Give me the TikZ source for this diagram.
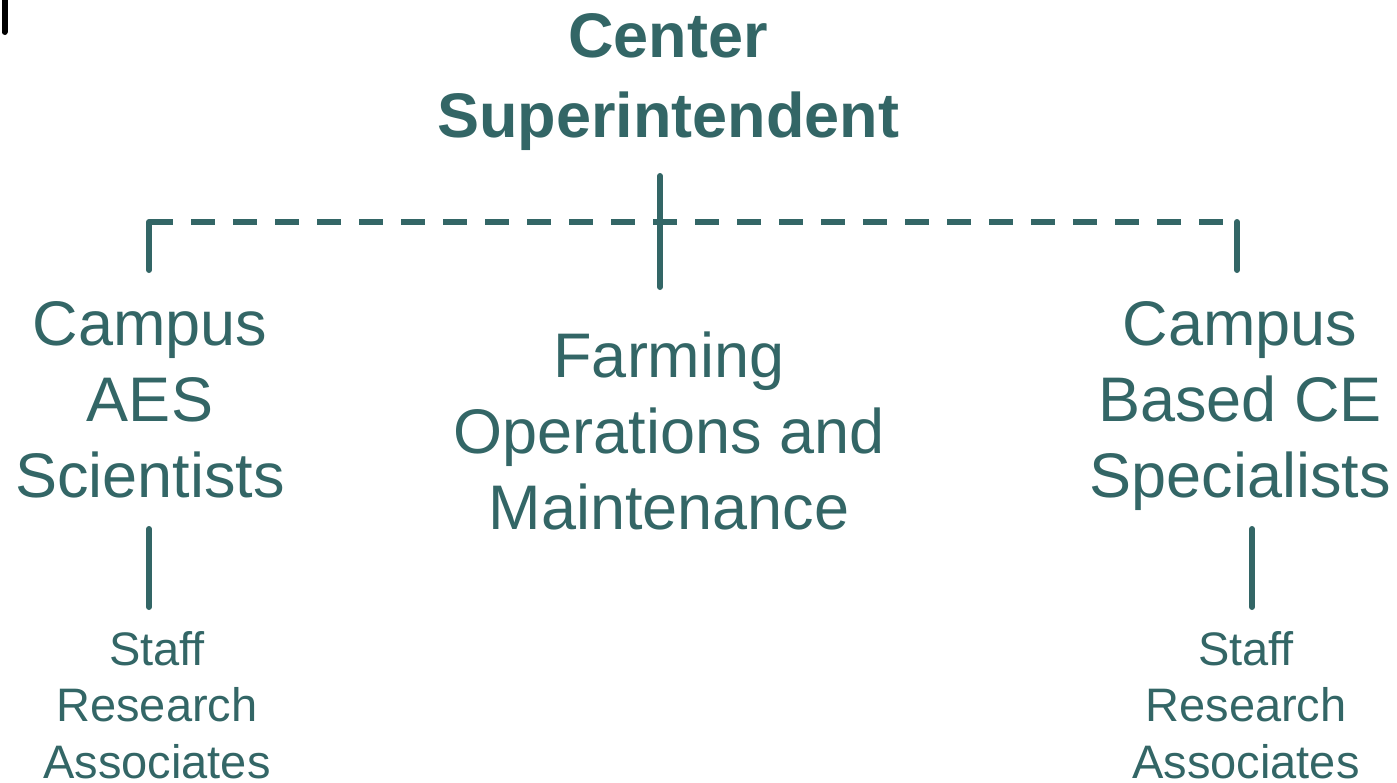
\documentclass[tikz,border=0pt]{standalone}
\usepackage{fontspec}
\setmainfont{Liberation Sans}
\usepackage{tikz}
\usepackage{xcolor}
\usetikzlibrary{calc}

\definecolor{sarc}{HTML}{336666}

\begin{document}
\begin{tikzpicture}[x=1pt,y=-1pt]

\tikzset{
    box/.style = {
    inner sep=0pt,
    align=center,
    anchor=base,
    text=sarc
    }
}

\tikzstyle{head}=[box, font=\bfseries\fontsize{63}{80}\selectfont]
\tikzstyle{unit}=[box, font=\fontsize{63}{76}\selectfont]
\tikzstyle{staff}=[box, font=\fontsize{47}{56.5}\selectfont]
\tikzstyle{trait}=[draw=sarc, line width=6pt, line cap=round]

\useasboundingbox (0,0) rectangle (1397,782);

\node (sup) [head] at (668,137) {Center\\Superintendent};

\node (aes) [unit] at (150,497) {Campus\\AES\\Scientists};
\node (farm) [unit] at (669,529) {Farming\\Operations and\\Maintenance};
\node (ce) [unit] at (1240,497) {Campus\\Based CE\\Specialists};

\node (sra-l) [staff] at (157,778) {Staff\\Research\\Associates};
\node (sra-r) [staff] at (1246,778) {Staff\\Research\\Associates};

\coordinate (bus-l) at ([shift={(-1,-275)}]aes.base);
\coordinate (bus-r) at ([shift={(-3,-275)}]ce.base);

\draw[trait, line cap=butt, dash pattern=on 24pt off 18pt] (bus-l)--(bus-r);

\draw[trait] ([shift={(-8,39)}]sup.base)--([shift={(-9,-242)}]farm.base);
\draw[trait] (bus-l)--([shift={(-1,-227)}]aes.base);
\draw[trait] (bus-r)--([shift={(-3,-227)}]ce.base);

\draw[trait] ([shift={(-1,32)}]aes.base)--([shift={(-8,-171)}]sra-l.base);
\draw[trait] ([shift={(12,32)}]ce.base)--([shift={(6,-171)}]sra-r.base);

% \draw (sup.north) node[above] {};

\draw[line width=6pt, line cap=round] (4.5,-10)--(4.5,32);

\end{tikzpicture}
\end{document}
